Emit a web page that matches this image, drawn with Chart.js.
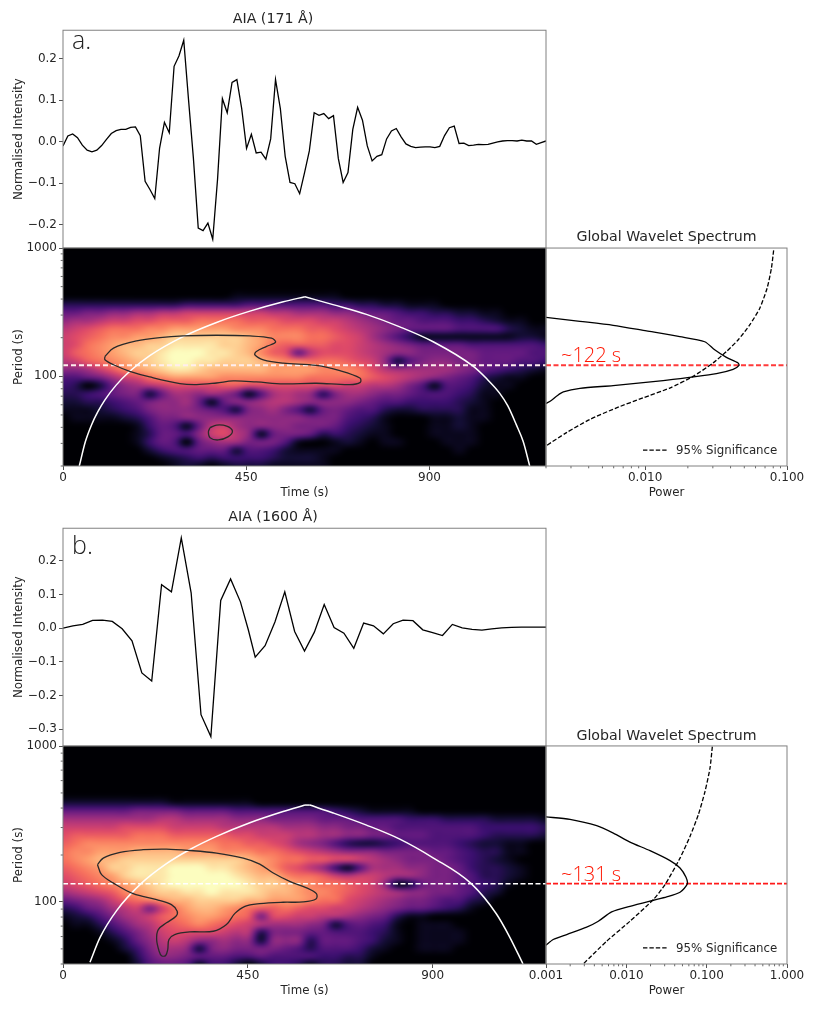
<!DOCTYPE html>
<html><head><meta charset="utf-8">
<style>html,body{margin:0;padding:0;background:#fff;width:817px;height:1009px;overflow:hidden}canvas{position:absolute}</style>
<script src="https://cdn.jsdelivr.net/npm/chart.js@4"></script>
</head><body>
<script>
// ---------- Panel a: light curve (AIA 171)
const seriesA = [-0.01,0.014,0.019,0.01,-0.008,-0.02,-0.024,-0.02,-0.009,0.006,0.02,0.027,0.03,0.03,0.035,0.036,0.015,-0.095,-0.115,-0.137,-0.015,0.047,0.022,0.182,0.207,0.245,0.1,-0.04,-0.208,-0.214,-0.196,-0.235,-0.09,0.104,0.07,0.143,0.15,0.08,-0.016,0.018,-0.027,-0.025,-0.042,0.007,0.15,0.08,-0.035,-0.098,-0.101,-0.125,-0.075,-0.022,0.07,0.064,0.068,0.056,0.063,-0.04,-0.098,-0.074,0.03,0.083,0.052,-0.01,-0.046,-0.035,-0.031,0.007,0.026,0.032,0.012,-0.005,-0.011,-0.014,-0.013,-0.012,-0.012,-0.014,-0.011,0.015,0.034,0.038,-0.004,-0.003,-0.009,-0.008,-0.006,-0.007,-0.006,-0.003,0,0.002,0.003,0.003,0.002,0.004,0.002,0.002,-0.006,-0.002,0.002];
const cadenceA = 11.86;
// ---------- Panel b: light curve (AIA 1600)
const timesB = [0,24,48,72,96,120,144,168,192,216,240,264,288,312,336,360,384,408,432,451,468,492,516,540,564,588,612,636,660,684,708,732,756,780,804,828,852,876,900,924,948,972,996,1020,1044,1068,1092,1116,1140,1164,1176];
const seriesB = [0,0.007,0.011,0.023,0.024,0.02,-0.002,-0.038,-0.133,-0.157,0.129,0.108,0.268,0.105,-0.257,-0.322,0.082,0.146,0.078,-0.004,-0.086,-0.052,0.018,0.108,-0.01,-0.068,-0.012,0.07,0.002,-0.015,-0.06,0.015,0.007,-0.017,0.013,0.024,0.022,-0.005,-0.013,-0.022,0.011,0.001,-0.004,-0.006,-0.002,0.001,0.002,0.003,0.003,0.003,0.003];

// ---------- Wavelet power (0 to 20); trailing zeros of a row are omitted
const rowsA = [1000,865,748,647,560,484,419,362,313,271,234,203,175,152,131,113,98,85,73,63,55,47.5,41,35.5,30.7,26.6,23,20];
const powerA = [
[],[],[],[],[],[],
[0,0,0,0,0,0,0,0,0,0,0,0,0,0,1,1,1,1,1,1,1,1,1],
[3,3,3,3,3,3,3,3,3,3,4,4,4,4,4,5,5,5,5,5,5,5,4,4,3,3,2,2,1,1,1],
[6,6,7,7,8,8,9,9,10,10,11,11,11,11,11,11,11,10,10,9,9,9,8,8,7,6,6,5,4,4,3,3,2,2,1,1],
[8,9,9,10,11,11,12,12,13,13,13,14,14,14,14,13,13,13,12,12,12,11,11,10,9,8,7,6,6,5,5,5,4,4,3,2,1,1],
[10,11,12,13,14,14,14,15,15,16,16,16,16,16,15,15,15,14,14,14,13,13,12,11,10,9,8,7,6,6,6,6,5,5,5,5,3,2,1,1],
[11,12,13,14,15,15,16,16,17,18,18,18,18,18,18,17,16,15,15,15,14,14,13,12,11,9,7,5,3,1,1,1,1,1,1,1,1,2,2,1],
[11,12,14,15,16,17,17,18,18,19,19,19,19,18,18,17,16,14,13,13,13,13,12,12,11,10,9,8,7,6,6,6,6,5,5,5,5,5,5,4],
[11,13,14,15,16,17,18,18,19,20,20,20,19,19,18,17,15,13,12,6,10,12,12,12,11,10,9,8,8,7,7,7,7,7,6,6,6,6,5,5],
[10,11,13,14,15,16,17,18,19,20,20,19,19,18,18,18,17,16,15,15,14,14,14,13,12,11,8,2,5,7,8,8,7,7,6,6,6,5,5,4],
[8,8,9,11,13,15,16,17,18,19,19,18,17,17,17,17,17,16,16,16,16,15,15,15,14,12,10,9,9,9,9,9,8,7,6,5,4,3,2,1],
[5,5,6,7,9,11,12,14,15,16,16,16,16,15,15,15,15,15,15,15,14,14,14,14,14,13,12,11,10,9,8,7,6,5,3,2,1,1],
[4,3,0,2,6,8,9,10,11,12,12,12,12,13,13,12,12,12,12,12,12,12,12,11,11,10,10,9,7,5,1,5,5,4,2,1,1],
[3,3,4,5,6,7,7,2,6,9,9,8,9,8,6,1,5,9,10,9,8,3,7,9,9,8,7,7,6,5,5,5,4,3,1,1],
[2,2,3,3,4,5,6,7,8,8,9,6,1,6,8,8,9,10,10,9,8,8,8,8,7,6,5,5,4,4,4,4,3,2,1],
[1,1,1,2,3,4,5,7,8,8,8,7,6,5,2,7,8,9,7,5,2,6,7,6,5,5,3,2,2,3,3,3,3,1,1],
[0,1,1,1,1,2,3,5,7,7,8,8,8,8,8,8,8,8,8,8,7,7,7,5,4,3,1,0,0,0,1,1,2,1,1],
[0,0,0,0,0,0,1,4,6,5,1,6,10,11,9,8,8,8,8,7,7,7,6,4,3,2,1,0,0,0,1,1,2,1],
[0,0,0,0,0,0,1,3,6,6,5,8,11,12,10,8,1,6,7,7,6,3,4,3,2,1,1,0,0,0,1,1,1,1],
[0,0,0,0,0,0,1,4,6,5,0,6,8,9,9,7,7,7,5,1,0,0,1,2,1,0,1,1,0,0,0,1,1,1],
[0,0,0,0,0,0,0,2,4,5,5,6,6,6,2,5,5,4,2,1,1,1,1,0,0,0,0,0,0,0,0,0,1],
[0,0,0,0,0,0,0,0,1,2,3,4,3,4,4,4,4,3,2,2,2,1],
[0,0,0,0,0,0,0,0,0,1,2,1,0,1,2,2,2,1,1,1,1,1]
];
const rowsB = [1000,887,787,698,619,549,487,432,383,340,302,268,237,210,187,166,147,130,116,103,91,81,72,64,56.5,50,45,40];
const powerB = [
[],[],[],[],[],[],[],
[2,2,2,2,2,2,2,2,2,1,1,1,1,1,1,1],
[6,6,6,6,6,6,7,7,7,7,6,6,6,6,5,5,5,5,5,5,5,5,4,3,2,1,1,1,1],
[9,9,9,9,9,9,9,9,10,10,9,9,9,9,8,8,8,7,7,7,7,6,6,6,5,5,5,5,4,4,4,3,3,3,3,2,2,2,2,1],
[11,11,11,11,11,12,12,12,12,11,11,11,11,10,10,10,10,10,9,9,9,8,8,7,7,6,6,5,5,5,5,5,5,5,4,4,4,4,4,3],
[12,13,13,13,13,13,14,14,14,13,13,13,13,13,12,12,11,11,11,10,10,9,9,8,8,7,7,6,6,6,5,5,5,5,4,3,3,3,3,2],
[13,14,15,15,15,15,15,15,15,15,15,15,15,14,14,13,13,12,11,9,8,7,5,3,2,2,3,4,5,5,5,5,4,3,2,2,1,1],
[14,15,15,16,16,16,17,17,17,17,16,16,16,15,15,15,14,14,13,12,11,10,9,8,8,8,7,7,7,7,6,6,5,4,3,3,1,1],
[14,15,16,17,17,18,18,18,18,18,18,18,18,18,18,17,16,15,14,14,13,13,12,12,11,10,9,8,7,7,7,6,5,4,3,2,1],
[13,14,15,16,18,18,19,19,19,20,20,20,19,19,18,17,16,15,13,12,10,8,4,1,5,9,9,9,8,8,7,7,6,4,3,3,2,1],
[12,13,14,15,16,18,19,19,19,20,20,20,20,20,19,18,17,17,15,14,14,13,11,10,11,11,10,9,9,8,7,7,6,5,3,3,2,1],
[11,12,13,14,15,16,17,18,19,20,20,20,20,20,20,19,18,18,17,16,15,14,14,13,12,11,8,1,2,6,7,7,6,5,4,3,1],
[9,10,11,12,13,15,16,17,18,18,19,19,20,19,19,19,18,17,17,16,15,15,14,13,12,11,10,9,8,8,7,7,6,5,3,2],
[6,7,8,9,11,13,14,15,16,17,17,18,18,18,18,17,17,16,16,16,15,14,14,12,11,10,9,8,7,7,6,5,5,3,2],
[3,4,6,7,9,10,11,7,11,14,16,17,17,16,15,14,13,13,14,13,12,12,11,11,10,9,8,7,6,6,5,4,3,1],
[1,2,3,5,7,9,10,11,13,14,15,16,16,15,14,13,7,12,12,11,11,10,10,9,8,7,6,3,1,1],
[0,1,1,3,5,7,9,10,12,13,14,15,14,13,12,11,10,9,9,9,8,7,2,5,6,5,4,1,0,1,1,1],
[0,0,0,1,3,5,7,9,11,12,12,12,12,11,10,10,3,7,7,7,6,6,5,5,5,4,3,1,0,1,1,1,1],
[0,0,0,0,1,3,6,8,10,11,10,8,8,9,8,8,2,8,8,8,3,6,6,6,5,4,2,1,0,1,1,1,1],
[0,0,0,0,0,2,4,7,9,9,8,2,7,8,7,7,7,7,6,5,3,5,5,5,4,2,1,0,0,1,1,1],
[0,0,0,0,0,0,3,6,8,8,7,6,6,6,5,5,6,5,5,5,5,4,4,3,3,1],
[0,0,0,0,0,0,2,5,6,6,5,1,4,4,2,0,2,4,4,3,1,3,3,2,2]
];
const gridEndA = 1186, gridEndB = 1176;

// ---------- Cone of influence (rising limb, falling limb)
const coiRiseTimeA = [40,55,70,85,103,130,164,213,295,377,459,541,594];
const coiRisePeriodA = [20,31,41.8,52.5,65.5,85,109.4,145,204,263,322,381,417];
const coiFallTimeA = [594,663,745,827,909,1007,1040,1072,1092,1113,1130,1146];
const coiFallPeriodA = [417,362,304,243,186,120,96,74,59,42,31,20];
const coiRiseTimeB = [65.7,90,130.6,190,252,309,374,455,536,589];
const coiRisePeriodB = [41,59,88,131,176,217,263.5,322,380,418];
const coiFallTimeB = [601,658,739,820,901,994,1055,1087,1120];
const coiFallPeriodB = [418,372,311,253,192,131,84,60,40];

// ---------- 95% significance contours (time, log10 period)
const contA1T = [103,124,181,238,295,377,459,512,522,500,475,471,492,541,622,680,729,730,704,622,541,475,418,377,328,287,213,164,124,103,103];
const contA1L = [2.155,2.22,2.276,2.302,2.315,2.32,2.315,2.297,2.266,2.233,2.194,2.168,2.129,2.103,2.085,2.044,1.987,1.953,1.935,1.946,1.941,1.956,1.964,1.948,1.935,1.943,1.995,2.039,2.09,2.129,2.155];
const contA2T = [361,377,402,416,406,381,361,357,361];
const contA2L = [1.6,1.62,1.612,1.574,1.53,1.504,1.522,1.566,1.6];
const contBT = [84,98,139,195,252,309,374,439,479,512,552,593,617,616,585,536,479,443,418,398,366,309,272,258,255,250,240,234,228,232,252,275,278,264,228,171,122,94,84];
const contBL = [2.239,2.281,2.318,2.335,2.339,2.33,2.313,2.281,2.243,2.186,2.132,2.09,2.053,2.019,2,1.998,1.989,1.972,1.925,1.855,1.812,1.808,1.791,1.759,1.695,1.657,1.655,1.684,1.759,1.823,1.866,1.908,1.94,1.983,2.015,2.053,2.122,2.175,2.239];

// ---------- Global wavelet spectra
const gwsPeriodA = [288,268.5,250,226,204,186,161,140.4,126.9,121.7,113.3,104.9,98.2,92.5,84.7,80.7,75.6,70,65.2,61.4];
const gwsPowerA = [0.002,0.00347,0.00595,0.01022,0.01754,0.0263,0.0309,0.0374,0.0452,0.0459,0.0417,0.0318,0.0206,0.0134,0.00595,0.00347,0.00265,0.00237,0.00219,0.002];
const sigPeriodA = [959,692,484,338,251.5,192,156,127,100,81,68,56.8,46.1,36.4,28.7];
const sigPowerA = [0.0805,0.0776,0.0723,0.0642,0.0546,0.0452,0.0374,0.0301,0.0218,0.0149,0.00968,0.00628,0.00407,0.00279,0.002];
const gwsPeriodB = [351,338,308,276,242,213,184,165,143.8,130.3,115.3,107.6,102.5,93.8,86.3,75.2,68.9,61.8,57.4,52.8];
const gwsPowerB = [0.001,0.00199,0.00427,0.00689,0.0111,0.0197,0.035,0.0466,0.0553,0.0574,0.0466,0.0318,0.0217,0.0111,0.00656,0.00448,0.00321,0.00181,0.00123,0.001];
const sigPeriodB = [990,720,510,362,263,191,129,103.5,75.2,56,40.1];
const sigPowerB = [0.1176,0.11,0.0953,0.0787,0.062,0.0466,0.0303,0.0217,0.0111,0.00569,0.00292];
const peakA = 122, peakB = 131;

// ---------- Tick labels
const ticksTopA = [0.2,0.1,0,-0.1,-0.2];
const ticksTopB = [0.2,0.1,0,-0.1,-0.2,-0.3];
const ticksTime = [0,450,900];
const ticksPeriod = [100,1000];
const ticksPowerA = [0.01,0.1];
const ticksPowerB = [0.001,0.01,0.1,1];

// ---------- Style
const FONT = '"DejaVu Sans"', TXT = '#262626', SPINE = '#808080';
const tickFont = {family:FONT,size:12}, labelFont = {family:FONT,size:11.8};
const magmaStops = [[0,0,4],[20,14,54],[59,15,112],[100,26,128],[140,41,129],[183,55,121],[222,73,104],[247,112,92],[254,159,109],[254,207,146],[252,253,191]];
function magma(t){
  t=Math.max(0,Math.min(1,t))*10;const i=Math.min(9,Math.floor(t)),f=t-i,a=magmaStops[i],b=magmaStops[i+1];
  return [a[0]+(b[0]-a[0])*f,a[1]+(b[1]-a[1])*f,a[2]+(b[2]-a[2])*f];
}
const cr=(a,b,c,d,f)=>b+0.5*f*(c-a+f*(2*a-5*b+4*c-d+f*(3*(b-c)+d-a)));
function heatPlugin(grid,rows,tEnd){
  return {id:'heat',beforeDatasetsDraw(chart){
    const {left,top,width,height}=chart.chartArea,xs=chart.scales.x,ys=chart.scales.y;
    const w=Math.round(width),h=Math.round(height),off=document.createElement('canvas');off.width=w;off.height=h;
    const o=off.getContext('2d'),img=o.createImageData(w,h),nc=40,nr=rows.length;
    const val=(r,c)=>{r=Math.max(0,Math.min(nr-1,r));c=Math.max(0,Math.min(nc-1,c));return grid[r][c]||0;};
    const lr=rows.map(Math.log10);
    for(let py=0;py<h;py++){
      const lp=Math.log10(ys.getValueForPixel(top+py+0.5));
      let r=0;while(r<nr-2&&lp<lr[r+1])r++;
      const fr=(lr[r]-lp)/(lr[r]-lr[r+1]);
      for(let px=0;px<w;px++){
        const cf=xs.getValueForPixel(left+px+0.5)/tEnd*(nc-1),c=Math.min(nc-2,Math.floor(cf)),fc=cf-c;
        const col=[-1,0,1,2].map(d=>cr(val(r+d,c-1),val(r+d,c),val(r+d,c+1),val(r+d,c+2),fc));
        const v=cr(col[0],col[1],col[2],col[3],fr);
        const m=magma(v/20),k=(py*w+px)*4;
        img.data[k]=m[0];img.data[k+1]=m[1];img.data[k+2]=m[2];img.data[k+3]=255;
      }
    }
    o.putImageData(img,0,0);
    const c=chart.ctx;c.save();c.beginPath();c.rect(left,top,width,height);c.clip();
    c.drawImage(off,left,top,width,height);
    c.filter='blur(2.2px)';c.drawImage(off,left,top,width,height);c.filter='none';
    c.restore();
  }};
}
const framePlugin={id:'frame',afterDatasetsDraw(chart){
  const a=chart.chartArea,c=chart.ctx;c.save();c.strokeStyle=SPINE;c.lineWidth=1;
  c.strokeRect(a.left,a.top,a.width,a.height);c.restore();
}};
function minorTicks(axis,lo,hi){return {id:'minor'+axis,afterDatasetsDraw(chart){
  const s=chart.scales[axis],c=chart.ctx;c.save();c.strokeStyle=TXT;c.lineWidth=0.7;c.beginPath();
  for(let e=lo;e<hi;e++)for(let m=2;m<10;m++){
    const v=m*Math.pow(10,e);if(v<s.min||v>s.max)continue;const p=s.getPixelForValue(v);
    if(axis==='x'){c.moveTo(p,s.top);c.lineTo(p,s.top+2.3);}else{c.moveTo(s.right,p);c.lineTo(s.right-2.3,p);}
  }
  c.stroke();c.restore();
}};}
function textPlugin(items){return {id:'txt',afterDatasetsDraw(chart){
  const c=chart.ctx;c.save();
  items.forEach(t=>{c.font=t.font;c.fillStyle=t.color;c.textAlign='left';c.textBaseline='alphabetic';
    const a=chart.chartArea,y=t.period?chart.scales.y.getPixelForValue(t.period)+t.dy:a.top+t.dy;c.fillText(t.text,a.left+t.dx,y);
    if(t.dash){c.strokeStyle='#000';c.lineWidth=1.2;c.setLineDash([4.4,2]);c.beginPath();c.moveTo(a.left+t.dx-33,y-4);c.lineTo(a.left+t.dx-9,y-4);c.stroke();c.setLineDash([]);}
  });c.restore();
}};}
const pts=(xs,ys)=>xs.map((x,i)=>({x,y:ys[i]}));
const line=(data,o)=>Object.assign({data,borderColor:'#000',borderWidth:1.3,pointRadius:0,showLine:true,fill:false},o);
const listTicks=list=>s=>{s.ticks=list.map(value=>({value}));};
const gridT={display:true,drawOnChartArea:false,drawTicks:true,tickLength:4,tickColor:TXT,tickWidth:0.8};
function make(left,top,w,h,type,datasets,scales,padding,title,plugins){
  const cv=document.createElement('canvas');cv.width=w;cv.height=h;cv.style.left=left+'px';cv.style.top=top+'px';cv.style.width=w+'px';cv.style.height=h+'px';
  document.body.appendChild(cv);
  return new Chart(cv,{type,data:{datasets},plugins:[...(plugins||[]),framePlugin],options:{
    responsive:false,animation:false,devicePixelRatio:1,layout:{padding},scales,
    plugins:{legend:{display:false},tooltip:{enabled:false},
      title:title?{display:true,text:title.text,color:TXT,font:{family:FONT,size:14.2,lineHeight:1.2,weight:'normal'},padding:{top:title.top,bottom:title.bottom}}:{display:false}}
  }});
}
const yTop=(min,max,list)=>({type:'linear',min,max,afterBuildTicks:listTicks(list),afterFit(s){s.width=63;},
  ticks:{autoSkip:false,color:TXT,font:tickFont,padding:2,callback:v=>(v<0?'\u2212':'')+Math.abs(v).toFixed(1)},
  grid:gridT,border:{display:false},title:{display:true,text:'Normalised Intensity',color:TXT,font:labelFont,padding:{top:12,bottom:12}}});
const xHidden=max=>({type:'linear',min:0,max,display:false});
const xTime=max=>({type:'linear',min:0,max,afterBuildTicks:listTicks(ticksTime),afterFit(s){s.height=34;},
  ticks:{autoSkip:false,maxRotation:0,color:TXT,font:tickFont,padding:1,callback:v=>String(v)},
  grid:gridT,border:{display:false},title:{display:true,text:'Time (s)',color:TXT,font:labelFont,padding:{top:1,bottom:0}}});
const yPeriod=min=>({type:'logarithmic',min,max:1000,afterBuildTicks:listTicks(ticksPeriod),afterFit(s){s.width=63;},
  ticks:{autoSkip:false,color:TXT,font:tickFont,padding:2,callback:v=>String(v)},
  grid:gridT,border:{display:false},title:{display:true,text:'Period (s)',color:TXT,font:labelFont,padding:{top:12,bottom:12}}});
const xPower=(min,max,list)=>({type:'logarithmic',min,max,afterBuildTicks:listTicks(list),afterFit(s){s.height=34;},
  ticks:{autoSkip:false,maxRotation:0,color:TXT,font:tickFont,padding:1,callback:v=>v.toFixed(3)},
  grid:gridT,border:{display:false},title:{display:true,text:'Power',color:TXT,font:labelFont,padding:{top:1,bottom:0}}});
const yHidden=min=>({type:'logarithmic',min,max:1000,display:false});
const RED='#ff1500';
const panelFont='300 25px "Open Sans","Liberation Sans"', peakFont='300 20px "Open Sans","Liberation Sans"';
const mono={borderColor:'#fff',borderWidth:1.5,cubicInterpolationMode:'monotone'};

// Panel a
make(0,0,568,260,'scatter',[line(pts(seriesA.map((_,i)=>i*cadenceA),seriesA),{})],
  {x:xHidden(1186),y:yTop(-0.256,0.269,ticksTopA)},{left:0,top:0,right:22,bottom:12},{text:'AIA (171 \u00c5)',top:11,bottom:2.2},
  [textPlugin([{text:'a.',font:panelFont,color:'#222',dx:9,dy:19}])]);
make(0,228,568,290,'scatter',[
  line(pts(contA1T,contA1L.map(v=>Math.pow(10,v))),{borderColor:'#2a2a2a',tension:0.35}),
  line(pts(contA2T,contA2L.map(v=>Math.pow(10,v))),{borderColor:'#2a2a2a',tension:0.35}),
  line(pts(coiRiseTimeA,coiRisePeriodA),mono),
  line(pts(coiFallTimeA,coiFallPeriodA),mono),
  line(pts([0,1186],[peakA,peakA]),{borderColor:'#ffeeee',borderWidth:1.9,borderDash:[5,3]})
 ],{x:xTime(1186),y:yPeriod(20)},{left:0,top:20,right:22,bottom:18},null,
 [heatPlugin(powerA,rowsA,gridEndA),minorTicks('y',1,3)]);
make(516,220,301,298,'scatter',[
  line(pts(gwsPowerA,gwsPeriodA),{tension:0.25}),
  line(pts(sigPowerA,sigPeriodA),{tension:0.2,borderDash:[4.4,2]}),
  line(pts([0.002,0.1],[peakA,peakA]),{borderColor:'#ff3a3a',borderWidth:1.9,borderDash:[5,2.5]})
 ],{x:xPower(0.002,0.1,ticksPowerA),y:yHidden(20)},{left:30,top:0,right:30,bottom:18},{text:'Global Wavelet Spectrum',top:9,bottom:2},
 [minorTicks('x',-3,-1),textPlugin([{text:'~122 s',font:peakFont,color:RED,dx:15,period:peakA,dy:-3},{text:'95% Significance',font:'11.8px '+FONT,color:TXT,dx:130,dy:206,dash:true}])]);

// Panel b
make(0,500,568,258,'scatter',[line(pts(timesB,seriesB),{})],
  {x:xHidden(1176),y:yTop(-0.35,0.2966,ticksTopB)},{left:0,top:0,right:22,bottom:12},{text:'AIA (1600 \u00c5)',top:9.2,bottom:2},
  [textPlugin([{text:'b.',font:panelFont,color:'#222',dx:9,dy:26}])]);
make(0,726,568,283,'scatter',[
  line(pts(contBT,contBL.map(v=>Math.pow(10,v))),{borderColor:'#2a2a2a',tension:0.35}),
  line(pts(coiRiseTimeB,coiRisePeriodB),mono),
  line(pts([589,601],[418,418]),mono),
  line(pts(coiFallTimeB,coiFallPeriodB),mono),
  line(pts([0,1176],[peakB,peakB]),{borderColor:'#fff',borderWidth:1.5,borderDash:[5,2.5]})
 ],{x:xTime(1176),y:yPeriod(40)},{left:0,top:20,right:22,bottom:11},null,
 [heatPlugin(powerB,rowsB,gridEndB),minorTicks('y',1,3)]);
make(516,718,301,291,'scatter',[
  line(pts(gwsPowerB,gwsPeriodB),{tension:0.25}),
  line(pts(sigPowerB,sigPeriodB),{tension:0.2,borderDash:[4.4,2]}),
  line(pts([0.001,1],[peakB,peakB]),{borderColor:'#ff1a1a',borderWidth:1.6,borderDash:[5,2]})
 ],{x:xPower(0.001,1,ticksPowerB),y:yHidden(40)},{left:30,top:0,right:30,bottom:11},{text:'Global Wavelet Spectrum',top:9.4,bottom:1.5},
 [minorTicks('x',-3,0),textPlugin([{text:'~131 s',font:peakFont,color:RED,dx:15,period:peakB,dy:-3},{text:'95% Significance',font:'11.8px '+FONT,color:TXT,dx:130,dy:206,dash:true}])]);
</script>
</body></html>
